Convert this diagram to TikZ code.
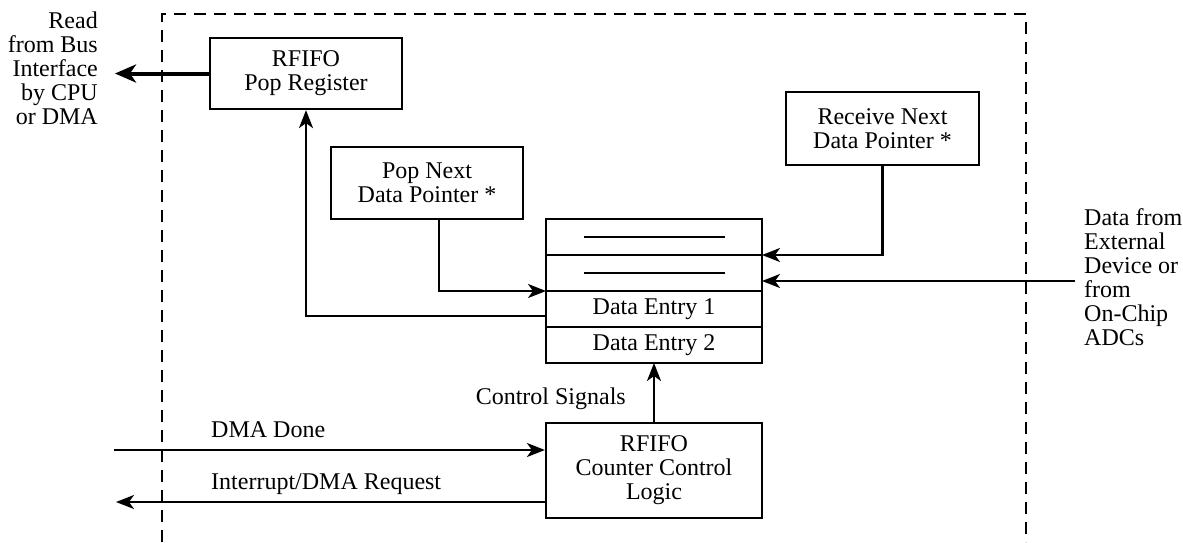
\documentclass[tikz,border=0pt]{standalone}
\usepackage{fontspec}
\setmainfont{Liberation Serif}
\usetikzlibrary{arrows.meta,calc}
\tikzset{
  txt/.style={font=\fontsize{24}{24}\selectfont, inner sep=0pt},
  box/.style={draw, line width=2.2pt, txt, align=center, minimum width=#1},
  row/.style={draw, line width=2.2pt, txt, outer sep=0pt, minimum width=216pt, minimum height=36pt, anchor=north west},
  arr/.style={line width=2.2pt, -{Stealth[length=18pt,width=14pt,inset=5pt]}},
  thickarr/.style={line width=4pt, -{Stealth[length=21pt,width=18pt,inset=6pt]}},
  frame/.style={line width=2pt, dash pattern=on 12pt off 8pt}
}
\begin{document}
\begin{tikzpicture}[x=1pt,y=-1pt]
\useasboundingbox (0,0) rectangle (1183,542);
% dashed frame
\draw[frame] (162,542) -- (162,14) -- (1026,14) -- (1026,542);

% boxes
\node[box=192pt, minimum height=71pt] (popreg) at (306,73.5) {RFIFO\\Pop Register};
\node[box=192pt, minimum height=72pt] (popnext) at (427,183) {Pop Next\\Data Pointer *};
\node[box=193pt, minimum height=73pt] (recvnext) at (882.5,128.5) {Receive Next\\Data Pointer *};
\node[box=216pt, minimum height=95pt] (counter) at (654,470.5) {RFIFO\\Counter Control\\Logic};

% stack
\node[row] (row1) at (546,219) {};
\node[row] (row2) at (row1.south west) {};
\node[row] (entry1) at (row2.south west) {Data Entry 1};
\node[row] (entry2) at (entry1.south west) {Data Entry 2};
\draw[line width=2.2pt] ($(row1.center)+(-70,0)$) -- ($(row1.center)+(71,0)$);
\draw[line width=2.2pt] ($(row2.center)+(-70,0)$) -- ($(row2.center)+(71,0)$);

% outside texts
\node[txt, align=right, anchor=east] (readtxt) at (98,68) {Read\\from Bus\\Interface\\by CPU\\or DMA};
\node[txt, align=left, anchor=west] (datatxt) at (1084,277) {Data from\\External\\Device or\\from\\On-Chip\\ADCs};
\node[txt, anchor=west] (dmadone) at (211,430) {DMA Done};
\node[txt, anchor=west] (intreq) at (211,484) {Interrupt/DMA Request};
\node[txt, anchor=east] (ctrl) at (626,399) {Control Signals};

% free ends
\coordinate (readend) at (115,73.5);
\coordinate (datain) at (1075,281);
\coordinate (dmain) at (114,450);
\coordinate (intout) at (116,502);

% connectors
\draw[thickarr] (popreg.west) -- (readend);
\draw[arr] (entry1.west |- 0,316) -| (popreg.south);
\draw[arr] (popnext.south -| 439,0) |- (row2.south west);
\draw[arr] (recvnext.south) |- (row1.south east);
\draw[arr] (datain) -- (row2.east |- datain);
\draw[arr] (counter.north) -- (entry2.south);
\draw[arr] (dmain) -- (counter.west |- dmain);
\draw[arr] (counter.west |- intout) -- (intout);
\end{tikzpicture}
\end{document}
